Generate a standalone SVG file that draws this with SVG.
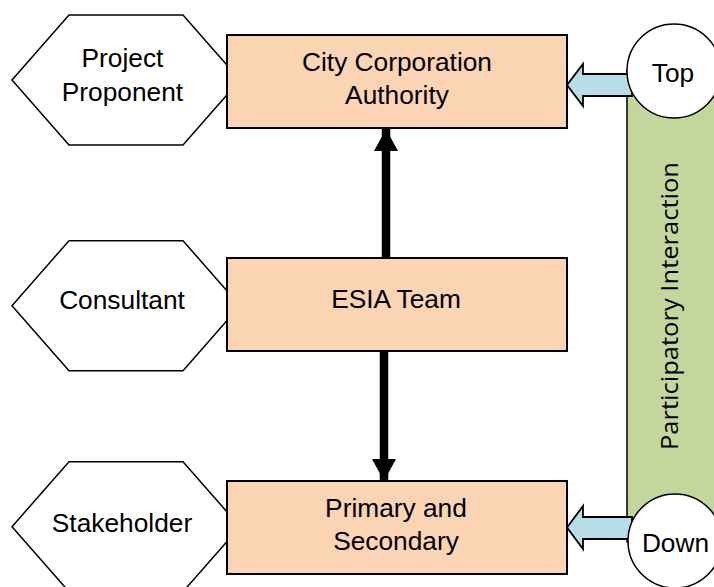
<svg xmlns="http://www.w3.org/2000/svg" width="714" height="587" viewBox="0 0 714 587">
<style>
.hex{fill:#ffffff;stroke:#000;stroke-width:1.5}
.box{fill:#FBD4B4;stroke:#000;stroke-width:2}
.t{font-family:"Liberation Sans",Arial,sans-serif;font-size:26.3px;fill:#000;text-anchor:middle}
.circ{fill:#ffffff;stroke:#000;stroke-width:1.5}
.blk{fill:#B7DEE8;stroke:#000;stroke-width:1.8}
.con{stroke:#000;stroke-width:8.5;fill:none}
</style>
<defs>
<marker id="ah" markerUnits="userSpaceOnUse" markerWidth="24" markerHeight="24" viewBox="0 0 24 24" refX="22" refY="12" orient="auto">
<path d="M0,0 L22,12 L0,24 Z" fill="#000"/>
</marker>
</defs>
<g id="participatory-bar">
<rect x="627" y="70" width="100" height="472" fill="#C3D69B" stroke="#000" stroke-width="1.5"/>
<text x="678" y="306" transform="rotate(-90 678 306)" style="font-family:'Open Sans','Noto Sans',sans-serif;font-size:24px;fill:#000;text-anchor:middle" textLength="288" lengthAdjust="spacingAndGlyphs">Participatory Interaction</text>
</g>
<g id="connectors">
<line class="con" x1="386" y1="258" x2="386" y2="129" marker-end="url(#ah)"/>
<line class="con" x1="384" y1="352" x2="384" y2="481" marker-end="url(#ah)"/>
<polygon class="blk" points="567,85 583,64 583,74 632,74 632,96 583,96 583,106"/>
<polygon class="blk" points="567,527.5 583,506 583,517 632,517 632,539 583,539 583,549"/>
</g>
<g id="node-top">
<circle class="circ" cx="674" cy="71" r="47"/>
<text class="t" x="673" y="82">Top</text>
</g>
<g id="node-down">
<circle class="circ" cx="675" cy="541" r="47"/>
<text class="t" x="675.5" y="551.5">Down</text>
</g>
<g id="node-project-proponent">
<polygon class="hex" points="12,80 69,15 183,15 240,80 183,145 69,145"/>
<text class="t" x="122.5" y="66.5">Project</text>
<text class="t" x="122.5" y="101">Proponent</text>
</g>
<g id="node-consultant">
<polygon class="hex" points="12,305.7 69,240.7 183,240.7 240,305.7 183,370.7 69,370.7"/>
<text class="t" x="122" y="309">Consultant</text>
</g>
<g id="node-stakeholder">
<polygon class="hex" points="12,526.7 69,461.7 183,461.7 240,526.7 183,591.7 69,591.7"/>
<text class="t" x="122" y="532">Stakeholder</text>
</g>
<g id="node-city-corporation">
<rect class="box" x="227" y="35" width="340" height="93"/>
<text class="t" x="397" y="71">City Corporation</text>
<text class="t" x="397" y="104">Authority</text>
</g>
<g id="node-esia-team">
<rect class="box" x="227" y="258" width="340" height="93"/>
<text class="t" x="396" y="308">ESIA Team</text>
</g>
<g id="node-primary-secondary">
<rect class="box" x="227" y="481" width="340" height="93"/>
<text class="t" x="396" y="516.5">Primary and</text>
<text class="t" x="396" y="550">Secondary</text>
</g>
</svg>
